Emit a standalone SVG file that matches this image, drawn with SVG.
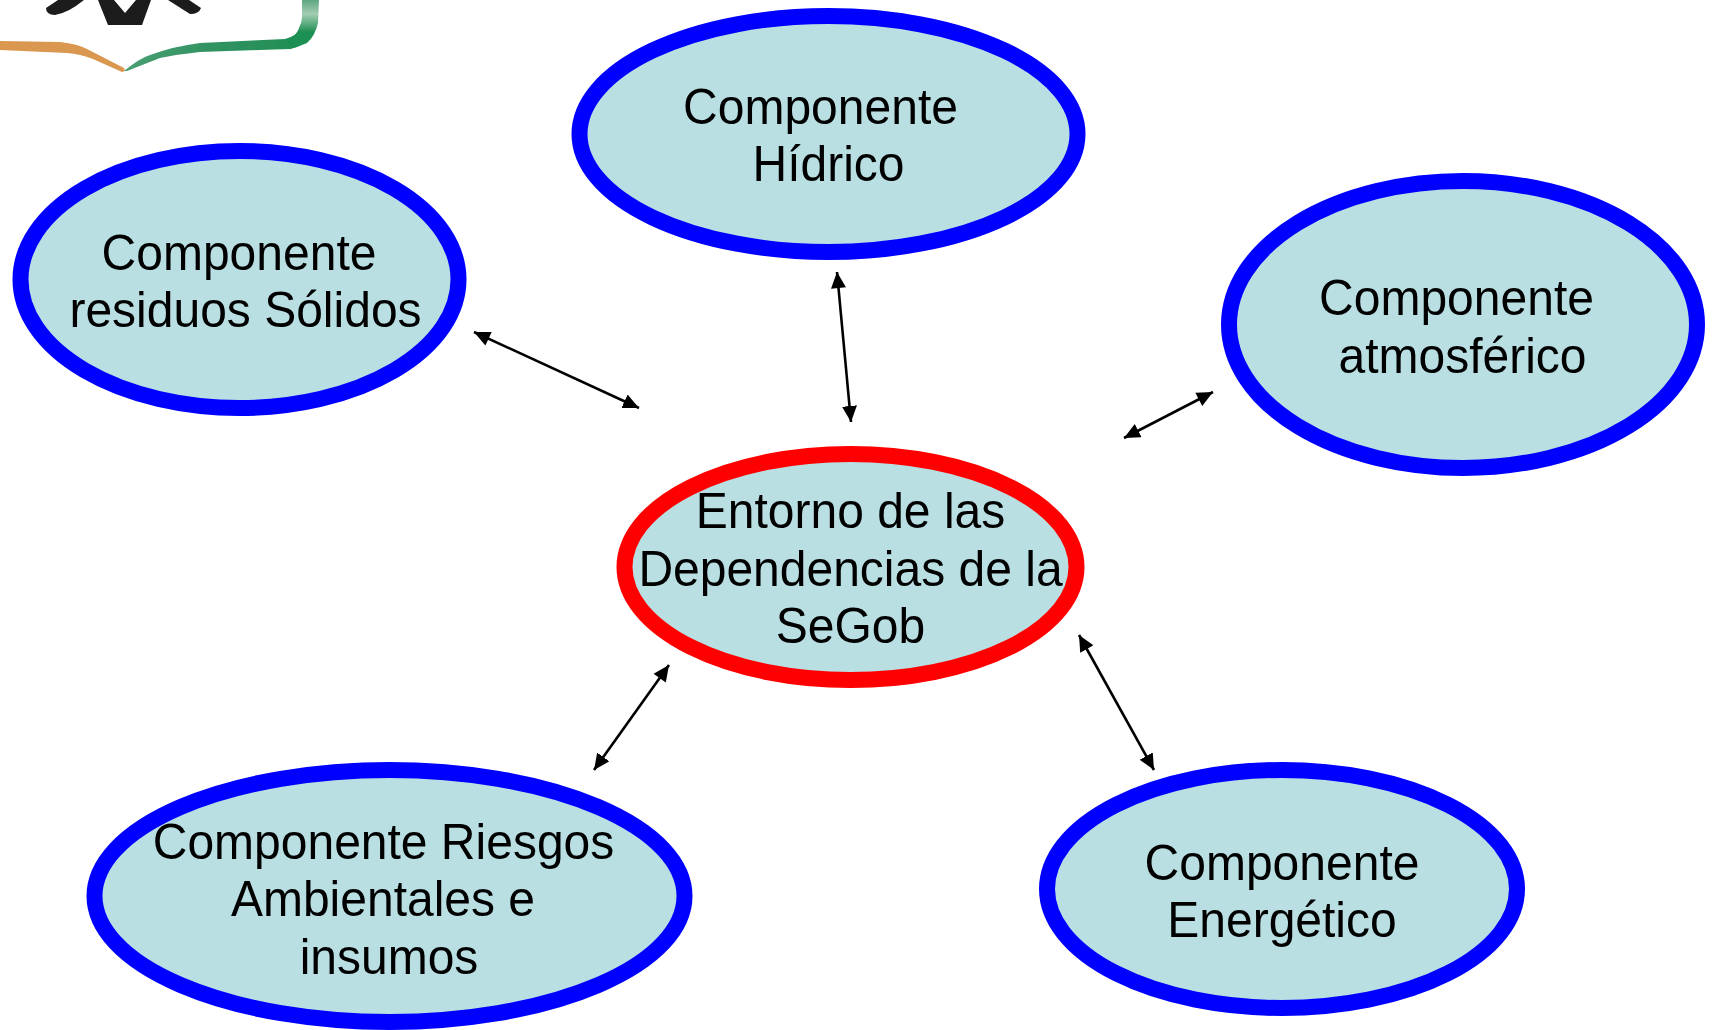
<svg xmlns="http://www.w3.org/2000/svg" width="1713" height="1030" viewBox="0 0 1713 1030">
<style>
.n{fill:#b9dfe3;stroke:#0000ff;stroke-width:16}
.c{fill:#b9dfe3;stroke:#ff0000;stroke-width:16}
text{font-family:"Liberation Sans",Arial,sans-serif;font-size:50px;fill:#000;text-anchor:middle}
.a{stroke:#000;stroke-width:2.6;fill:none;marker-start:url(#s);marker-end:url(#e)}
</style>
<defs>
<marker id="e" markerUnits="userSpaceOnUse" markerWidth="17" markerHeight="16" refX="16" refY="7.5" orient="auto"><path d="M0 0L16 7.5L0 15z" fill="#000"/></marker>
<marker id="s" markerUnits="userSpaceOnUse" markerWidth="17" markerHeight="16" refX="0" refY="7.5" orient="auto"><path d="M16 0L0 7.500L16 15z" fill="#000"/></marker>
<linearGradient id="g" gradientUnits="userSpaceOnUse" x1="125" y1="0" x2="318" y2="0"><stop offset="0" stop-color="#4a9f72"/><stop offset=".5" stop-color="#2f9160"/><stop offset=".95" stop-color="#1f8f52"/></linearGradient>
<linearGradient id="g2" gradientUnits="userSpaceOnUse" x1="0" y1="0" x2="0" y2="40"><stop offset="0" stop-color="#5fa680"/><stop offset=".35" stop-color="#a3cdb4"/><stop offset=".8" stop-color="#1f8f52"/></linearGradient>
<filter id="b" x="-5%" y="-20%" width="110%" height="140%"><feGaussianBlur stdDeviation="0.6"/></filter>
</defs>
<rect width="1713" height="1030" fill="#fff"/>
<g id="logo" filter="url(#b)">
<path d="M0 41L60 42Q78 44 87 49L124 68L125 71L122 72L93 59Q80 54 67 53L0 50z" fill="#d9974f"/>
<path d="M124 71Q140 58 150 55Q175 46 200 43L285 39Q296 36 300 30L312 33Q306 45 290 49L200 52Q180 54 160 58L127 71z" fill="url(#g)"/>
<path d="M302 0H319L318 23Q315 36 307 43Q298 47 290 49L287 39Q296 37 299 28Q302 22 302 17z" fill="url(#g2)"/>
<path d="M58 0L46 8Q46 15 55 15Q68 13 84 0z" fill="#1a1a1a"/>
<path d="M98 0L108 25H142L151 0H136L125 13L114 0z" fill="#1a1a1a"/>
<path d="M168 0L190 14Q199 14 201 8L189 0z" fill="#1a1a1a"/>
</g>
<g id="connectors">
<line class="a" x1="474" y1="332" x2="639" y2="408"/>
<line class="a" x1="837" y1="272" x2="851" y2="422"/>
<line class="a" x1="1213" y1="392" x2="1124" y2="438"/>
<line class="a" x1="669" y1="665" x2="594" y2="770"/>
<line class="a" x1="1079" y1="635" x2="1154" y2="770"/>
</g>
<g id="hidrico"><ellipse class="n" cx="828.500" cy="134" rx="249" ry="118"/><text transform="translate(820.500 124) scale(.96 1)">Componente</text><text transform="translate(828.500 181) scale(.96 1)">Hídrico</text></g>
<g id="residuos"><ellipse class="n" cx="239.500" cy="279.500" rx="219" ry="128.500"/><text transform="translate(239 270) scale(.96 1)">Componente</text><text transform="translate(245.500 327) scale(.96 1)">residuos Sólidos</text></g>
<g id="atmosferico"><ellipse class="n" cx="1463" cy="324.500" rx="234" ry="143.500"/><text transform="translate(1456.500 315) scale(.96 1)">Componente</text><text transform="translate(1462.500 373) scale(.96 1)">atmosférico</text></g>
<g id="entorno"><ellipse class="c" cx="850.500" cy="567" rx="226" ry="113"/><text transform="translate(850.500 528) scale(.96 1)">Entorno de las</text><text transform="translate(850.500 586) scale(.96 1)">Dependencias de la</text><text transform="translate(850.500 643) scale(.96 1)">SeGob</text></g>
<g id="riesgos"><ellipse class="n" cx="389.500" cy="896" rx="295" ry="126"/><text transform="translate(383.500 859) scale(.96 1)">Componente Riesgos</text><text transform="translate(383 916) scale(.96 1)">Ambientales e</text><text transform="translate(389 974) scale(.96 1)">insumos</text></g>
<g id="energetico"><ellipse class="n" cx="1282" cy="889" rx="235" ry="119"/><text transform="translate(1282 880) scale(.96 1)">Componente</text><text transform="translate(1282 937) scale(.96 1)">Energético</text></g>
</svg>
